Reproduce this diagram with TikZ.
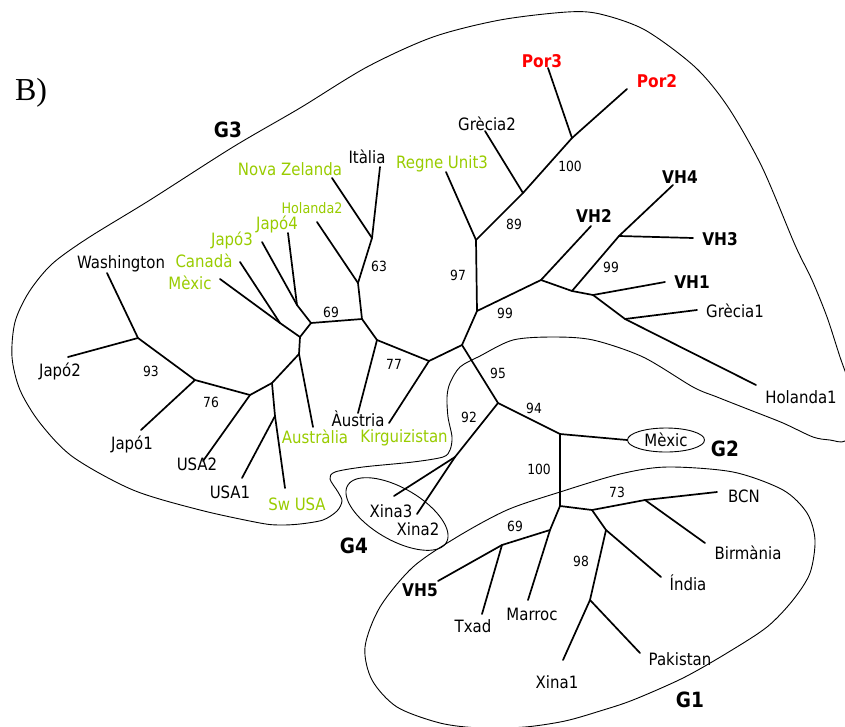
\documentclass[tikz,border=0pt]{standalone}
\usepackage{fontspec}
\setmainfont{DejaVu Sans}[FakeStretch=0.88]
\newfontfamily\serifB{Liberation Serif}
\usetikzlibrary{shapes.geometric}
\definecolor{lgreen}{RGB}{153,204,0}
\definecolor{pred}{RGB}{255,0,0}
\begin{document}
\begin{tikzpicture}[x=1pt,y=-1pt,
 br/.style={line width=1.7pt, line cap=round, line join=round},
 hull/.style={line width=0.9pt},
 lb/.style={font=\fontsize{17}{20}\selectfont, inner sep=0pt, anchor=base},
 gl/.style={lb, text=lgreen},
 sm/.style={font=\fontsize{14.5}{17}\selectfont, inner sep=0pt, anchor=base},
 bl/.style={font=\bfseries\fontsize{17.5}{20}\selectfont, inner sep=0pt, anchor=base},
 rl/.style={bl, text=pred},
 gp/.style={font=\bfseries\fontsize{21}{24}\selectfont, inner sep=0pt, anchor=base},
 bs/.style={font=\fontsize{14}{16}\selectfont, inner sep=0pt, anchor=base}]
\useasboundingbox (0,0) rectangle (845,726);
\fill[white] (0,0) rectangle (845,726);
\clip (0,0) rectangle (845,726);

% ---------- group outlines ----------
\draw[hull] plot[smooth cycle, tension=0.5] coordinates {
 (20,390) (12,357) (15,322) (29,292) (52,264) (88,238) (150,200) (233,147) (300,108)
 (367,67) (433,37) (500,20) (567,12) (600,14) (645,30) (695,67) (728,107)
 (762,167) (795,245) (812,280) (827,317) (840,357) (852,392) (856,422)
 (845,441) (830,440) (813,437) (783,423) (750,410) (717,397) (693,387)
 (643,357) (593,340) (553,337) (513,340) (480,356) (460,367) (450,383)
 (447,397) (448,417) (452,437) (450,450) (443,457) (413,462) (363,467)
 (335,472) (330,479) (338,492) (342,501) (337,511) (323,520) (300,524)
 (280,525) (260,523) (200,510) (133,490) (73,457) (40,423)};

\draw[hull] plot[smooth cycle, tension=0.5] coordinates {
 (365,647) (380,607) (413,567) (457,537) (507,510) (560,492) (620,474)
 (667,467) (733,472) (783,490) (807,513) (815,540) (810,573) (793,600)
 (767,627) (727,653) (683,678) (633,700) (600,711) (565,721) (525,727)
 (480,728) (440,723) (397,707) (372,680)};

\draw[hull] plot[domain=0:356, samples=90, smooth cycle]
 ({397+57*cos(\x)*0.866-26*sin(\x)*0.5},{514+57*cos(\x)*0.5+26*sin(\x)*0.866});

\node[draw, ellipse, line width=0.9pt, minimum width=77pt, minimum height=24pt,
 inner sep=0pt, font=\fontsize{17}{20}\selectfont] (g2) at (666,440) {Mèxic};

% ---------- tree coordinates ----------
\coordinate (wash) at (107,273);
\coordinate (A) at (138,338);
\coordinate (japo2) at (68,357);
\coordinate (B) at (195,380);
\coordinate (japo1) at (141,430);
\coordinate (C) at (250,395);
\coordinate (usa2) at (203,461);
\coordinate (D) at (272,383);
\coordinate (F) at (275,416);
\coordinate (swusa) at (285,488);
\coordinate (usa1) at (242,478);
\coordinate (Q) at (299,354);
\coordinate (aust) at (313,427);
\coordinate (P) at (300,337);
\coordinate (M) at (280,323);
\coordinate (mex) at (220,279);
\coordinate (can) at (240,262);
\coordinate (R) at (311,323);
\coordinate (J) at (297,305);
\coordinate (japo3) at (262,242);
\coordinate (japo4) at (288,233);
\coordinate (U) at (362,319);
\coordinate (S) at (358,283);
\coordinate (hol2) at (317,222);
\coordinate (T) at (372,238);
\coordinate (nz) at (332,178);
\coordinate (ita) at (380,167);
\coordinate (V) at (377,340);
\coordinate (austria) at (358,413);
\coordinate (W) at (429,361);
\coordinate (kirg) at (389,423);
\coordinate (X) at (462,345);
\coordinate (Y) at (477,311);
\coordinate (Z) at (476,240);
\coordinate (ru3) at (446,172);
\coordinate (GG) at (523,193);
\coordinate (gre2) at (485,131);
\coordinate (HH) at (572,138);
\coordinate (por3) at (548,68);
\coordinate (por2) at (627,89);
\coordinate (AA) at (541,280);
\coordinate (vh2) at (591,226);
\coordinate (KK) at (572,291);
\coordinate (II) at (619,236);
\coordinate (vh4) at (673,185);
\coordinate (vh3) at (693,238);
\coordinate (LL) at (593,295);
\coordinate (vh1) at (665,282);
\coordinate (MM) at (625,319);
\coordinate (gre1) at (697,310);
\coordinate (hol1) at (756,385);
\coordinate (BB) at (498,403);
\coordinate (CC) at (455,457);
\coordinate (xina3) at (394,496);
\coordinate (xina2) at (417,514);
\coordinate (DD) at (560,434);
\coordinate (EE) at (560,506);
\coordinate (FF) at (592,510);
\coordinate (NN) at (645,500);
\coordinate (bcn) at (717,492);
\coordinate (birm) at (705,543);
\coordinate (OO) at (606,530);
\coordinate (india) at (661,577);
\coordinate (PP) at (590,600);
\coordinate (xina1) at (563,660);
\coordinate (pak) at (640,653);
\coordinate (QQ) at (550,530);
\coordinate (marroc) at (528,600);
\coordinate (RR) at (502,545);
\coordinate (vh5) at (438,581);
\coordinate (txad) at (482,614);

% ---------- branches ----------
\draw[br] (wash) -- (A) -- (B) -- (C) -- (D) -- (Q) -- (P) -- (R) -- (U) -- (V) -- (W) -- (X) -- (Y) -- (Z) -- (GG) -- (HH) -- (por2);
\draw[br] (japo2) -- (A);
\draw[br] (B) -- (japo1);
\draw[br] (C) -- (usa2);
\draw[br] (D) -- (F) -- (swusa);
\draw[br] (F) -- (usa1);
\draw[br] (Q) -- (aust);
\draw[br] (P) -- (M) -- (mex);
\draw[br] (M) -- (can);
\draw[br] (R) -- (J) -- (japo3);
\draw[br] (J) -- (japo4);
\draw[br] (U) -- (S) -- (hol2);
\draw[br] (S) -- (T) -- (nz);
\draw[br] (T) -- (ita);
\draw[br] (V) -- (austria);
\draw[br] (W) -- (kirg);
\draw[br] (Z) -- (ru3);
\draw[br] (GG) -- (gre2);
\draw[br] (HH) -- (por3);
\draw[br] (Y) -- (AA) -- (vh2);
\draw[br] (AA) -- (KK) -- (II) -- (vh4);
\draw[br] (II) -- (vh3);
\draw[br] (KK) -- (LL) -- (vh1);
\draw[br] (LL) -- (MM) -- (gre1);
\draw[br] (MM) -- (hol1);
\draw[br] (X) -- (BB) -- (CC) -- (xina3);
\draw[br] (CC) -- (xina2);
\draw[br] (BB) -- (DD) -- (g2.west);
\draw[br] (DD) -- (EE) -- (FF) -- (NN) -- (bcn);
\draw[br] (NN) -- (birm);
\draw[br] (FF) -- (OO) -- (india);
\draw[br] (OO) -- (PP) -- (xina1);
\draw[br] (PP) -- (pak);
\draw[br] (EE) -- (QQ) -- (marroc);
\draw[br] (QQ) -- (RR) -- (vh5);
\draw[br] (RR) -- (txad);

% ---------- leaf labels ----------
\node[rl] (lpor3) at (542,67) {Por3};
\node[rl] (lpor2) at (657,87) {Por2};
\node[lb] (lgre2) at (487,130) {Grècia2};
\node[lb] (lita) at (367,163) {Itàlia};
\node[gl] (lru3) at (442,168.5) {Regne Unit3};
\node[gl] (lnz) at (290,175) {Nova Zelanda};
\node[sm, text=lgreen] (lhol2) at (312,213) {Holanda2};
\node[gl] (ljapo4) at (277,229.5) {Japó4};
\node[gl] (ljapo3) at (232,245) {Japó3};
\node[gl] (lcan) at (204,267) {Canadà};
\node[gl] (lmex) at (190,289) {Mèxic};
\node[lb] (lwash) at (121,268.5) {Washington};
\node[lb] (ljapo2) at (60,376) {Japó2};
\node[lb] (ljapo1) at (132,449) {Japó1};
\node[lb] (lusa2) at (197,470) {USA2};
\node[lb] (lusa1) at (230,498) {USA1};
\node[gl] (lswusa) at (297,510) {Sw USA};
\node[gl] (laust) at (315,443) {Austràlia};
\node[lb] (laustria) at (358,426) {Àustria};
\node[gl] (lkirg) at (404,442) {Kirguizistan};
\node[lb] (lxina3) at (391,517) {Xina3};
\node[lb] (lxina2) at (418,535) {Xina2};
\node[bl] (lvh5) at (420,596) {VH5};
\node[lb] (ltxad) at (473,632) {Txad};
\node[lb] (lmarroc) at (532,620) {Marroc};
\node[lb] (lxina1) at (557,688) {Xina1};
\node[lb] (lpak) at (680,665) {Pakistan};
\node[lb] (lindia) at (688,590) {Índia};
\node[lb] (lbirm) at (748,559) {Birmània};
\node[lb] (lbcn) at (744,502) {BCN};
\node[lb] (lhol1) at (801,403) {Holanda1};
\node[lb] (lgre1) at (735,317) {Grècia1};
\node[bl] (lvh1) at (692,288) {VH1};
\node[bl] (lvh3) at (720,245) {VH3};
\node[bl] (lvh2) at (594,222) {VH2};
\node[bl] (lvh4) at (680,183) {VH4};

% ---------- group labels ----------
\node[gp] (G1) at (690,707) {G1};
\node[gp] (G2) at (725,456) {G2};
\node[gp] (G3) at (228,137) {G3};
\node[gp] (G4) at (354,553) {G4};
\node[inner sep=0pt, anchor=base, font=\serifB\fontsize{32}{34}\selectfont] (Blab) at (31,100) {B)};

% ---------- bootstrap values ----------
\node[bs] (b1) at (570,171) {100};
\node[bs] (b2) at (514,229) {89};
\node[bs] (b3) at (458,280) {97};
\node[bs] (b4) at (505,318) {99};
\node[bs] (b5) at (611,272) {99};
\node[bs] (b6) at (379,271) {63};
\node[bs] (b7) at (331,317) {69};
\node[bs] (b8) at (394,369) {77};
\node[bs] (b9) at (151,376) {93};
\node[bs] (b10) at (211,407) {76};
\node[bs] (b11) at (498,378) {95};
\node[bs] (b12) at (534,413) {94};
\node[bs] (b13) at (469,422) {92};
\node[bs] (b14) at (539,474) {100};
\node[bs] (b15) at (617,497) {73};
\node[bs] (b16) at (515,531) {69};
\node[bs] (b17) at (581,566) {98};
\end{tikzpicture}
\end{document}
